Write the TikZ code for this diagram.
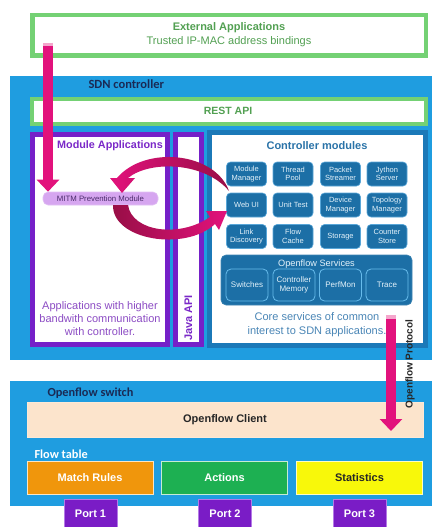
\documentclass[tikz,border=0pt]{standalone}
\usepackage{fontspec}
\setmainfont{Liberation Sans}
\newfontfamily\carlito{Carlito}
\usetikzlibrary{arrows.meta}

\definecolor{bgblue}{HTML}{1F9DE0}
\definecolor{gborder}{HTML}{74D174}
\definecolor{gtext}{HTML}{52A052}
\definecolor{navy}{HTML}{1A2A55}
\definecolor{purp}{HTML}{7520C8}
\definecolor{purptext}{HTML}{7A28C8}
\definecolor{apptext}{HTML}{8C4CC4}
\definecolor{mitmfill}{HTML}{D6A6F0}
\definecolor{mitmtext}{HTML}{4A2A6A}
\definecolor{ctrlborder}{HTML}{1B79B8}
\definecolor{ctrltext}{HTML}{2A73A8}
\definecolor{btnblue}{HTML}{1C6FA6}
\definecolor{btnedge}{HTML}{58A6D8}
\definecolor{svcedge}{HTML}{68BCEC}
\definecolor{btntext}{HTML}{E4F2FA}
\definecolor{coretext}{HTML}{4A86B6}
\definecolor{arrowpink}{HTML}{E2127C}
\definecolor{arrowlight}{HTML}{F4A6CC}
\definecolor{arrowdark}{HTML}{980E46}
\definecolor{peach}{HTML}{FCE4CC}
\definecolor{orangecell}{HTML}{F0960C}
\definecolor{greencell}{HTML}{1DB052}
\definecolor{yellowcell}{HTML}{F8F80A}
\definecolor{portpurple}{HTML}{7A1CC6}
\definecolor{portedge}{HTML}{B47AE6}

\begin{document}
\begin{tikzpicture}[x=1pt,y=-1pt,
  greenbox/.style={draw=gborder, line width=4.5pt, fill=white, inner sep=0pt},
  purplebox/.style={draw=purp, line width=5pt, fill=white, inner sep=0pt},
  modbtn/.style={draw=btnedge, line width=0.6pt, fill=btnblue, rounded corners=4pt,
    text=btntext, font=\fontsize{7.5}{8.5}\selectfont, align=center,
    minimum width=40pt, minimum height=24pt, inner sep=0pt},
  svcbtn/.style={draw=svcedge, line width=0.8pt, fill=btnblue, rounded corners=5pt,
    text=btntext, font=\fontsize{8}{9}\selectfont, align=center,
    minimum width=42pt, minimum height=32pt, inner sep=0pt},
  flowcell/.style={draw=white!75!#1, line width=0.8pt, fill=#1, inner sep=0pt,
    minimum width=126pt, minimum height=33pt, font=\bfseries\fontsize{11}{13}\selectfont},
  portbox/.style={fill=portpurple, draw=portedge, line width=0.6pt, text=white,
    inner sep=0pt, minimum width=53pt, minimum height=30pt,
    font=\bfseries\fontsize{11}{13}\selectfont},
  pinkshaft/.style={draw=arrowpink, line width=9.5pt,
    -{Triangle[width=22pt,length=12pt]}},
]
\useasboundingbox (0,0) rectangle (431,527);
\fill[white] (0,0) rectangle (431,527);

% ---------- External applications ----------
\node[greenbox, minimum width=393.5pt, minimum height=40.5pt] (ext) at (229,35.5) {};
\node[text=gtext, font=\bfseries\fontsize{11}{13}\selectfont] (exttitle) at (229,28) {External Applications};
\node[text=gtext, font=\fontsize{11}{13}\selectfont] (extsub) at (229,42) {Trusted IP-MAC address bindings};

% ---------- SDN controller ----------
\fill[bgblue] (10,76) rectangle (436,360);
\node[anchor=west, text=navy, font=\carlito\bfseries\fontsize{12.5}{14}\selectfont] (sdnlabel) at (85,84) {SDN controller};

\node[greenbox, minimum width=394pt, minimum height=25pt] (rest) at (229,111.5) {};
\node[text=gtext, font=\bfseries\fontsize{10.5}{12}\selectfont] (resttext) at (228,111) {REST API};

% module applications column
\node[purplebox, minimum width=135pt, minimum height=210pt] (modapps) at (100,239.5) {};
\node[text=purptext, font=\bfseries\fontsize{10.8}{13}\selectfont] (modtitle) at (110,146) {Module Applications};
\node[draw=mitmfill!70!white, line width=0.6pt, fill=mitmfill, rounded corners=5pt,
      minimum width=115pt, minimum height=13pt, inner sep=0pt,
      text=mitmtext, font=\fontsize{7.8}{9}\selectfont] (mitm) at (100.5,198.5) {MITM Prevention Module};
\node[text=apptext, font=\fontsize{11}{13}\selectfont, align=center] (apptxt) at (100,318.5)
  {Applications with higher\\bandwith communication\\with controller.};

% Java API column
\node[purplebox, minimum width=26pt, minimum height=210pt] (java) at (188.5,239.5) {};
\node[rotate=90, text=purptext, font=\bfseries\fontsize{11}{13}\selectfont] (javatxt) at (188.5,318) {Java API};

% controller modules
\node[draw=ctrlborder, line width=5pt, fill=white, inner sep=0pt,
      minimum width=216pt, minimum height=213pt] (ctrl) at (317.5,239) {};
\node[text=ctrltext, font=\bfseries\fontsize{11}{13}\selectfont] (ctrltitle) at (317,146) {Controller modules};

\node[modbtn] (m11) at (246.5,174) {Module\\Manager};
\node[modbtn] (m12) at (293,174)   {Thread\\Pool};
\node[modbtn] (m13) at (340.5,174) {Packet\\Streamer};
\node[modbtn] (m14) at (387,174)   {Jython\\Server};
\node[modbtn] (m21) at (246.5,205) {Web UI};
\node[modbtn] (m22) at (293,205)   {Unit Test};
\node[modbtn] (m23) at (340.5,205) {Device\\Manager};
\node[modbtn] (m24) at (387,205)   {Topology\\Manager};
\node[modbtn] (m31) at (246.5,236.5) {Link\\Discovery};
\node[modbtn] (m32) at (293,236.5)   {Flow\\Cache};
\node[modbtn] (m33) at (340.5,236.5) {Storage};
\node[modbtn] (m34) at (387,236.5)   {Counter\\Store};

% openflow services panel
\node[fill=btnblue, draw=btnblue!85!white, line width=0.6pt, rounded corners=5pt,
      minimum width=191pt, minimum height=50pt, inner sep=0pt] (ofs) at (316.5,280) {};
\node[text=btntext, font=\fontsize{9.2}{11}\selectfont] (ofstitle) at (316.5,264) {Openflow Services};
\node[svcbtn] (s1) at (247,285)   {Switches};
\node[svcbtn] (s2) at (294,285)   {Controller\\Memory};
\node[svcbtn] (s3) at (340.5,285) {PerfMon};
\node[svcbtn] (s4) at (387,285)   {Trace};

\node[text=coretext, font=\fontsize{11}{14}\selectfont, align=center] (coretxt) at (317,325)
  {Core services of common\\interest to SDN applications.};

% ---------- Openflow switch ----------
\fill[bgblue] (10,381) rectangle (436,506);
\node[anchor=west, text=navy, font=\carlito\bfseries\fontsize{12.3}{14}\selectfont] (swlabel) at (44,393) {Openflow switch};
\node[fill=peach, draw=peach!80!white, line width=0.6pt, inner sep=0pt,
      minimum width=396pt, minimum height=35pt,
      font=\bfseries\fontsize{11}{13}\selectfont, text=black!85] (client) at (225,419.5) {Openflow Client};
\node[anchor=west, text=white, font=\carlito\bfseries\fontsize{12.3}{14}\selectfont] (flowlabel) at (31,454) {Flow table};

\node[flowcell=orangecell, text=white] (match) at (90,477.5)  {Match Rules};
\node[flowcell=greencell, text=white]  (act)   at (224.5,477.5) {Actions};
\node[flowcell=yellowcell, text=black!85] (stat) at (359.5,477.5) {Statistics};

\node[portbox] (p1) at (90.5,514)  {Port 1};
\node[portbox] (p2) at (225,514)   {Port 2};
\node[portbox] (p3) at (359.5,514) {Port 3};

% ---------- curved arrows between the MITM module and the controller ----------
\shade[left color=arrowpink, right color=arrowdark]
  (229,191) .. controls (215,152) and (145,145) .. (117,178)
  -- (110,178) -- (122,193) -- (135,178) -- (128,178)
  .. controls (150,160) and (205,162) .. (229,191) -- cycle;
\shade[left color=arrowdark, right color=arrowpink]
  (113,205) .. controls (112,240) and (185,252) .. (215,224)
  -- (219,230) -- (227,211) -- (206,211) -- (210,217)
  .. controls (180,238) and (132,232) .. (128,205) -- cycle;

% ---------- straight arrows ----------
\coordinate (extout) at (48,43);
\draw[pinkshaft] (extout) -- (extout |- mitm.north);
\fill[arrowlight] (43.25,43) rectangle (52.75,46.5);

\coordinate (ofout) at (391,315);
\coordinate (ofin) at (391,431);
\draw[pinkshaft] (ofout) -- (ofin);
\fill[arrowlight] (386.25,315) rectangle (395.75,318.5);
\node[rotate=90, text=black!85, font=\bfseries\fontsize{10}{12}\selectfont] (oflabel) at (410,364) {Openflow Protocol};
\end{tikzpicture}
\end{document}
